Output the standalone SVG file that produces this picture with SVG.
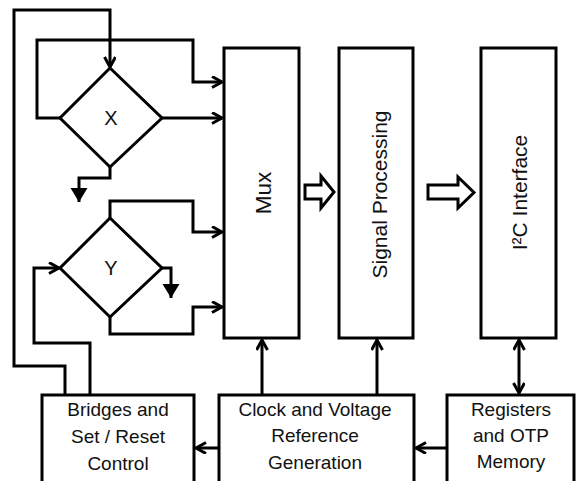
<svg xmlns="http://www.w3.org/2000/svg" width="576" height="481" viewBox="0 0 576 481">
<style>
.box{fill:#fff;stroke:#000;stroke-width:3}
.ln{fill:none;stroke:#000;stroke-width:3}
.oa{marker-end:url(#open)}
.fa{marker-end:url(#fill)}
.t{font-family:"Liberation Sans",Arial,sans-serif;font-size:19px;fill:#111;text-anchor:middle}
.tr{font-family:"Liberation Sans",Arial,sans-serif;font-size:21px;fill:#111;text-anchor:middle}
.hol{fill:#fff;stroke:#000;stroke-width:3;stroke-linejoin:miter}
</style>
<defs>
<marker id="open" markerUnits="userSpaceOnUse" markerWidth="14" markerHeight="14" refX="11" refY="6" orient="auto-start-reverse" viewBox="0 0 14 14">
<path d="M1,0.5 L11,6 L1,11.5" fill="none" stroke="#000" stroke-width="3"/>
</marker>
<marker id="fill" markerUnits="userSpaceOnUse" markerWidth="18" markerHeight="18" refX="14" refY="8.5" orient="auto" viewBox="0 0 18 18">
<path d="M0,0 L14,8.5 L0,17 Z" fill="#000"/>
</marker>
</defs>
<rect width="576" height="481" fill="#fff"/>
<g id="connectors">
<path class="ln oa" d="M65,395 V366 H14 V10 H110 V67"/>
<path class="ln oa" d="M60,118 H37 V40 H193 V82 H222"/>
<path class="ln oa" d="M162,118 H222"/>
<path class="ln fa" d="M110,167 V178 H79 V202"/>
<path class="ln oa" d="M90,395 V343 H34 V268 H59"/>
<path class="ln oa" d="M110,218 V201 H193 V232 H222"/>
<path class="ln oa" d="M110,317 V334 H193 V307 H222"/>
<path class="ln fa" d="M162,268 H171 V298"/>
<path class="ln oa" d="M262,395 V340"/>
<path class="ln oa" d="M377,395 V340"/>
<path class="ln oa" style="marker-start:url(#open)" d="M519,340 V393"/>
<path class="ln oa" d="M219,448 H196"/>
<path class="ln oa" d="M447,448 H416"/>
<path class="hol" d="M305,185 H321 V176 L334,192 L321,208 V199 H305 Z"/>
<path class="hol" d="M428,185 H458 V177 L474,192.5 L458,208 V199 H428 Z"/>
</g>
<g id="x">
<path class="box" d="M110,68 L162,118 L110,167 L60,118 Z"/>
<text class="t" x="111" y="125" style="font-size:20px">X</text>
</g>
<g id="y">
<path class="box" d="M110,218 L162,268 L110,317 L60,268 Z"/>
<text class="t" x="111" y="275" style="font-size:20px">Y</text>
</g>
<g id="mux">
<rect class="box" x="224" y="48" width="75" height="290"/>
<text class="tr" transform="translate(271,193) rotate(-90)" style="font-size:22.5px">Mux</text>
</g>
<g id="signal">
<rect class="box" x="339" y="48" width="74" height="290"/>
<text class="tr" transform="translate(387,194.5) rotate(-90)">Signal Processing</text>
</g>
<g id="i2c">
<rect class="box" x="481" y="48" width="75" height="290"/>
<text class="tr" transform="translate(527,192.5) rotate(-90)">I²C Interface</text>
</g>
<g id="bridges">
<rect class="box" x="42" y="395" width="152" height="100"/>
<text class="t" x="118" y="416">Bridges and</text>
<text class="t" x="118" y="443">Set / Reset</text>
<text class="t" x="118" y="470">Control</text>
</g>
<g id="clock">
<rect class="box" x="219" y="395" width="195" height="100"/>
<text class="t" x="315" y="416">Clock and Voltage</text>
<text class="t" x="315" y="442">Reference</text>
<text class="t" x="315" y="469">Generation</text>
</g>
<g id="registers">
<rect class="box" x="447" y="395" width="127" height="100"/>
<text class="t" x="511" y="416">Registers</text>
<text class="t" x="511" y="442">and OTP</text>
<text class="t" x="511" y="468">Memory</text>
</g>
</svg>
